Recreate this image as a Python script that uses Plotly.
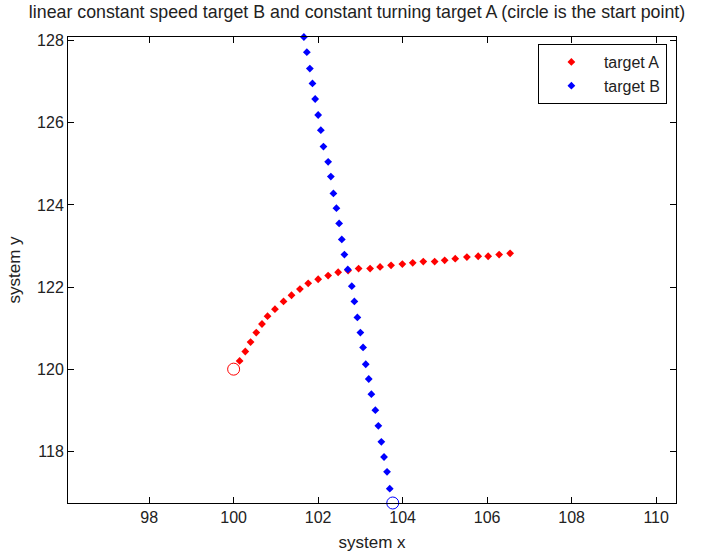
import plotly.graph_objects as go

# Target A (constant turning), first point is the start point
a_x = [100.000, 100.142, 100.276, 100.401, 100.536, 100.671, 100.803, 100.978, 101.181, 101.370,
       101.569, 101.765, 102.001, 102.237, 102.474, 102.710, 102.958, 103.230, 103.466, 103.726,
       103.993, 104.239, 104.489, 104.758, 104.995, 105.245, 105.521, 105.788, 106.024, 106.284,
       106.544]
a_y = [120.00, 120.20, 120.43, 120.66, 120.89, 121.10, 121.29, 121.46, 121.65, 121.80,
       121.95, 122.09, 122.19, 122.28, 122.36, 122.40, 122.45, 122.45, 122.49, 122.53,
       122.56, 122.59, 122.62, 122.62, 122.65, 122.69, 122.73, 122.75, 122.75, 122.79,
       122.82]

# Target B (linear constant speed), first point is the start point
b_x = [103.766, 103.695, 103.631, 103.560, 103.496, 103.425, 103.354, 103.260, 103.198, 103.127,
       103.064, 103.000, 102.929, 102.858, 102.797, 102.702, 102.622, 102.560, 102.497, 102.433,
       102.362, 102.301, 102.237, 102.126, 102.064, 102.001, 101.930, 101.866, 101.804, 101.733,
       101.663]
b_y = [116.74, 117.09, 117.50, 117.86, 118.23, 118.62, 119.00, 119.39, 119.76, 120.12,
       120.53, 120.89, 121.26, 121.65, 122.02, 122.43, 122.79, 123.16, 123.55, 123.92,
       124.28, 124.69, 125.05, 125.42, 125.82, 126.19, 126.58, 126.96, 127.32, 127.72,
       128.09]

x_ticks = [98, 100, 102, 104, 106, 108, 110]
y_ticks = [118, 120, 122, 124, 126, 128]

FONT = "Liberation Sans"

fig = go.Figure()
fig.add_trace(go.Scatter(x=a_x[1:], y=a_y[1:], mode="markers", name="target A",
                         marker=dict(symbol="diamond", size=6, color="#ff0000"),
                         cliponaxis=False))
fig.add_trace(go.Scatter(x=b_x[1:], y=b_y[1:], mode="markers", name="target B",
                         marker=dict(symbol="diamond", size=6, color="#0000ff"),
                         cliponaxis=False))
fig.add_trace(go.Scatter(x=a_x[:1], y=a_y[:1], mode="markers", showlegend=False,
                         marker=dict(symbol="circle-open", size=12, color="#ff0000",
                                     line=dict(width=1)), cliponaxis=False))
fig.add_trace(go.Scatter(x=b_x[:1], y=b_y[:1], mode="markers", showlegend=False,
                         marker=dict(symbol="circle-open", size=12, color="#0000ff",
                                     line=dict(width=1)), cliponaxis=False))

axis_common = dict(showgrid=False, zeroline=False, showline=True, linecolor="black",
                   linewidth=1, mirror="ticks", ticks="inside", ticklen=6, automargin=False,
                   tickcolor="black", tickfont=dict(family=FONT, size=16, color="#222"))

fig.update_layout(
    width=714, height=558,
    margin=dict(l=68, r=38, t=37, b=55),
    paper_bgcolor="white", plot_bgcolor="white",
    title=dict(text="linear constant speed target B and constant turning target A (circle is the start point)",
               x=0.5, xanchor="center", y=0.99, yanchor="top", automargin=False,
               font=dict(family=FONT, size=17.8, color="#222")),
    xaxis=dict(range=[96.08, 110.47], tickvals=x_ticks,
               title=dict(text="system x", font=dict(family=FONT, size=17, color="#222"), standoff=10),
               **axis_common),
    yaxis=dict(range=[116.74, 128.09], tickvals=y_ticks,
               title=dict(text="system y", font=dict(family=FONT, size=17, color="#222"), standoff=12),
               **axis_common),
    legend=dict(x=0.985, y=0.985, xanchor="right", yanchor="top",
                bgcolor="white", bordercolor="black", borderwidth=1,
                font=dict(family=FONT, size=16, color="#222"), itemwidth=55,
                tracegroupgap=0),
    showlegend=True,
)

fig.write_html("out.html")
